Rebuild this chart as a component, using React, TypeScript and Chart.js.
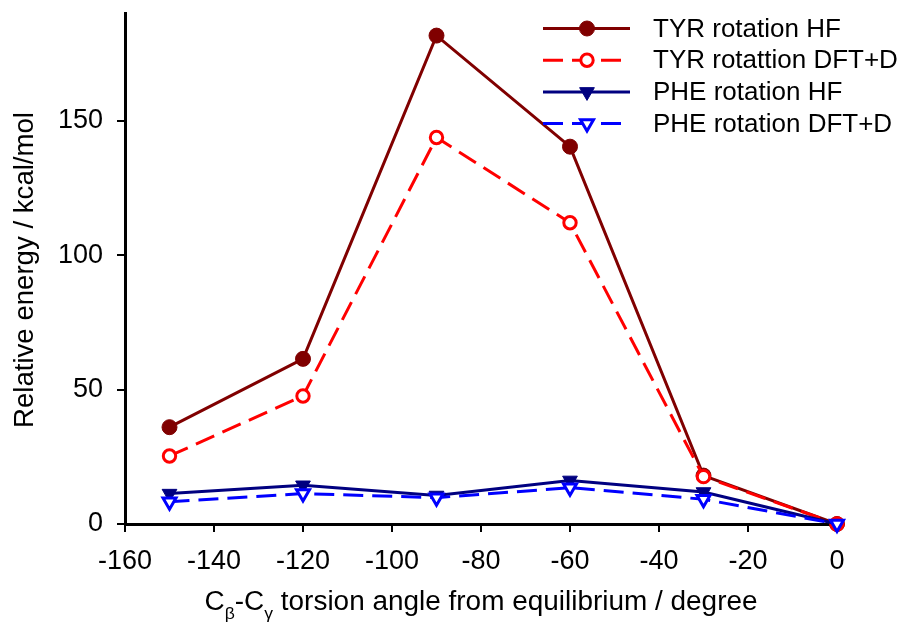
import React, { useEffect, useRef } from 'react';
import { Chart, registerables } from 'chart.js';

Chart.register(...registerables);

// Torsion angles (degrees from equilibrium) at which energies were computed
const angles = [-150, -120, -90, -60, -30, 0];

// Relative energies in kcal/mol
const tyrHF = [36.0, 61.4, 181.6, 140.3, 18.0, 0];
const tyrDFT = [25.3, 47.6, 143.7, 112.0, 17.6, 0];
const pheHF = [11.3, 14.4, 10.6, 16.2, 11.9, 0];
const pheDFT = [8.3, 11.3, 9.8, 13.5, 9.2, 0];

const seriesNames = [
  'TYR rotation HF',
  'TYR rotattion DFT+D',
  'PHE rotation HF',
  'PHE rotation DFT+D',
];

const xTicks = [-160, -140, -120, -100, -80, -60, -40, -20, 0];
const yTicks = [0, 50, 100, 150];

const yTitle = 'Relative energy / kcal/mol';

const FONT = '"Liberation Sans", Arial, Helvetica, sans-serif';

type SeriesStyle = {
  color: string;
  dash: number[];
  shape: 'circle' | 'triangleDown';
  filled: boolean;
  radius: number;
};

const styles: SeriesStyle[] = [
  { color: '#800000', dash: [], shape: 'circle', filled: true, radius: 7.5 },
  { color: '#ff0000', dash: [20, 9], shape: 'circle', filled: false, radius: 6.2 },
  { color: '#000080', dash: [], shape: 'triangleDown', filled: true, radius: 8.5 },
  { color: '#0000ff', dash: [20, 9], shape: 'triangleDown', filled: false, radius: 7.5 },
];

const seriesData = [tyrHF, tyrDFT, pheHF, pheDFT];

function markerPath(ctx: CanvasRenderingContext2D, s: SeriesStyle, x: number, y: number) {
  ctx.beginPath();
  if (s.shape === 'circle') {
    ctx.arc(x, y, s.radius, 0, Math.PI * 2);
  } else {
    const r = s.radius;
    ctx.moveTo(x, y + r);
    ctx.lineTo(x - 0.866 * r, y - 0.5 * r);
    ctx.lineTo(x + 0.866 * r, y - 0.5 * r);
    ctx.closePath();
  }
}

// Draws runs of normal / subscript text, optionally stretched to a target width
function drawRuns(
  ctx: CanvasRenderingContext2D,
  runs: { text: string; sub?: boolean }[],
  cx: number,
  baseline: number,
  mainSize: number,
  subSize: number,
  subShift: number,
  targetWidth?: number
) {
  const widths = runs.map((r) => {
    ctx.font = `${r.sub ? subSize : mainSize}px ${FONT}`;
    return ctx.measureText(r.text).width;
  });
  const natural = widths.reduce((a, b) => a + b, 0);
  const sx = targetWidth ? targetWidth / natural : 1;
  ctx.save();
  ctx.translate(cx - (natural * sx) / 2, baseline);
  ctx.scale(sx, 1);
  ctx.textAlign = 'left';
  ctx.textBaseline = 'alphabetic';
  ctx.fillStyle = '#000';
  let x = 0;
  runs.forEach((r, i) => {
    ctx.font = `${r.sub ? subSize : mainSize}px ${FONT}`;
    ctx.fillText(r.text, x, r.sub ? subShift : 0);
    x += widths[i];
  });
  ctx.restore();
}

const annotations = {
  id: 'annotations',
  afterDraw(chart: Chart) {
    const ctx = chart.ctx;
    const area = chart.chartArea;

    // Legend
    const rowY = [28.5, 60.2, 91.9, 123.6];
    styles.forEach((s, i) => {
      const y = rowY[i];
      ctx.save();
      ctx.strokeStyle = s.color;
      ctx.lineWidth = 3;
      ctx.setLineDash(s.dash);
      ctx.beginPath();
      ctx.moveTo(543, y);
      ctx.lineTo(630, y);
      ctx.stroke();
      ctx.setLineDash([]);
      markerPath(ctx, s, 587, y);
      ctx.fillStyle = s.filled ? s.color : '#ffffff';
      ctx.fill();
      ctx.lineWidth = s.filled ? 1 : 3;
      ctx.stroke();
      ctx.fillStyle = '#000';
      ctx.font = `26px ${FONT}`;
      ctx.textAlign = 'left';
      ctx.textBaseline = 'middle';
      ctx.fillText(seriesNames[i], 653, y + 1);
      ctx.restore();
    });

    // X axis title with subscripts
    drawRuns(
      ctx,
      [
        { text: 'C' },
        { text: 'β', sub: true },
        { text: '-C' },
        { text: 'γ', sub: true },
        { text: ' torsion angle from equilibrium / degree' },
      ],
      (area.left + area.right) / 2,
      610,
      27,
      17,
      9,
      553
    );

    // Y axis title
    ctx.save();
    ctx.translate(33, 270);
    ctx.rotate(-Math.PI / 2);
    ctx.font = `27px ${FONT}`;
    const w = ctx.measureText(yTitle).width;
    ctx.scale(316 / w, 1);
    ctx.fillStyle = '#000';
    ctx.textAlign = 'center';
    ctx.textBaseline = 'alphabetic';
    ctx.fillText(yTitle, 0, 0);
    ctx.restore();
  },
};

export default function App() {
  const ref = useRef<HTMLCanvasElement>(null);

  useEffect(() => {
    const canvas = ref.current;
    if (!canvas) return;

    const chart = new Chart(canvas, {
      type: 'line',
      data: {
        datasets: seriesData.map((vals, i) => {
          const s = styles[i];
          return {
            label: seriesNames[i],
            data: angles.map((a, j) => ({ x: a, y: vals[j] })),
            borderColor: s.color,
            borderWidth: 3,
            borderDash: s.dash,
            pointStyle: s.shape === 'circle' ? 'circle' : 'triangle',
            pointRotation: s.shape === 'circle' ? 0 : 180,
            pointRadius: s.radius,
            pointBackgroundColor: s.filled ? s.color : '#ffffff',
            pointBorderColor: s.color,
            pointBorderWidth: s.filled ? 1 : 3,
            tension: 0,
            fill: false,
            clip: false,
            order: 4 - i,
          };
        }),
      },
      options: {
        responsive: false,
        animation: false,
        devicePixelRatio: 1,
        events: [],
        layout: { padding: { top: 13, right: 66, left: 0, bottom: 0 } },
        plugins: {
          legend: { display: false },
          tooltip: { enabled: false },
          title: { display: false },
        },
        scales: {
          x: {
            type: 'linear',
            position: 'bottom',
            min: -160,
            max: 0,
            afterBuildTicks: (scale: any) => {
              scale.ticks = xTicks.map((v) => ({ value: v }));
            },
            afterFit: (scale: any) => {
              scale.height = 107;
              scale.paddingLeft = 0;
              scale.paddingRight = 0;
            },
            grid: {
              display: true,
              drawOnChartArea: false,
              drawTicks: true,
              tickLength: 8,
              color: '#000',
              lineWidth: 2,
            },
            border: { display: true, color: '#000', width: 3 },
            ticks: {
              color: '#000',
              font: { family: FONT, size: 27 },
              padding: 13,
              maxRotation: 0,
              autoSkip: false,
              callback: (v: any) => String(v),
            },
          },
          y: {
            type: 'linear',
            position: 'left',
            min: 0,
            max: 190,
            afterBuildTicks: (scale: any) => {
              scale.ticks = yTicks.map((v) => ({ value: v }));
            },
            afterFit: (scale: any) => {
              scale.width = 125;
              scale.paddingTop = 0;
              scale.paddingBottom = 0;
            },
            grid: {
              display: true,
              drawOnChartArea: false,
              drawTicks: true,
              tickLength: 8,
              color: '#000',
              lineWidth: 2,
            },
            border: { display: true, color: '#000', width: 3 },
            ticks: {
              color: '#000',
              font: { family: FONT, size: 27 },
              padding: 14,
              autoSkip: false,
              callback: (v: any) => String(v),
            },
          },
        },
      },
      plugins: [annotations],
    });

    return () => chart.destroy();
  }, []);

  return (
    <div
      style={{
        position: 'fixed',
        left: 0,
        top: 0,
        width: 903,
        height: 631,
        background: '#ffffff',
      }}
    >
      <canvas ref={ref} width={903} height={631} style={{ display: 'block' }} />
    </div>
  );
}
